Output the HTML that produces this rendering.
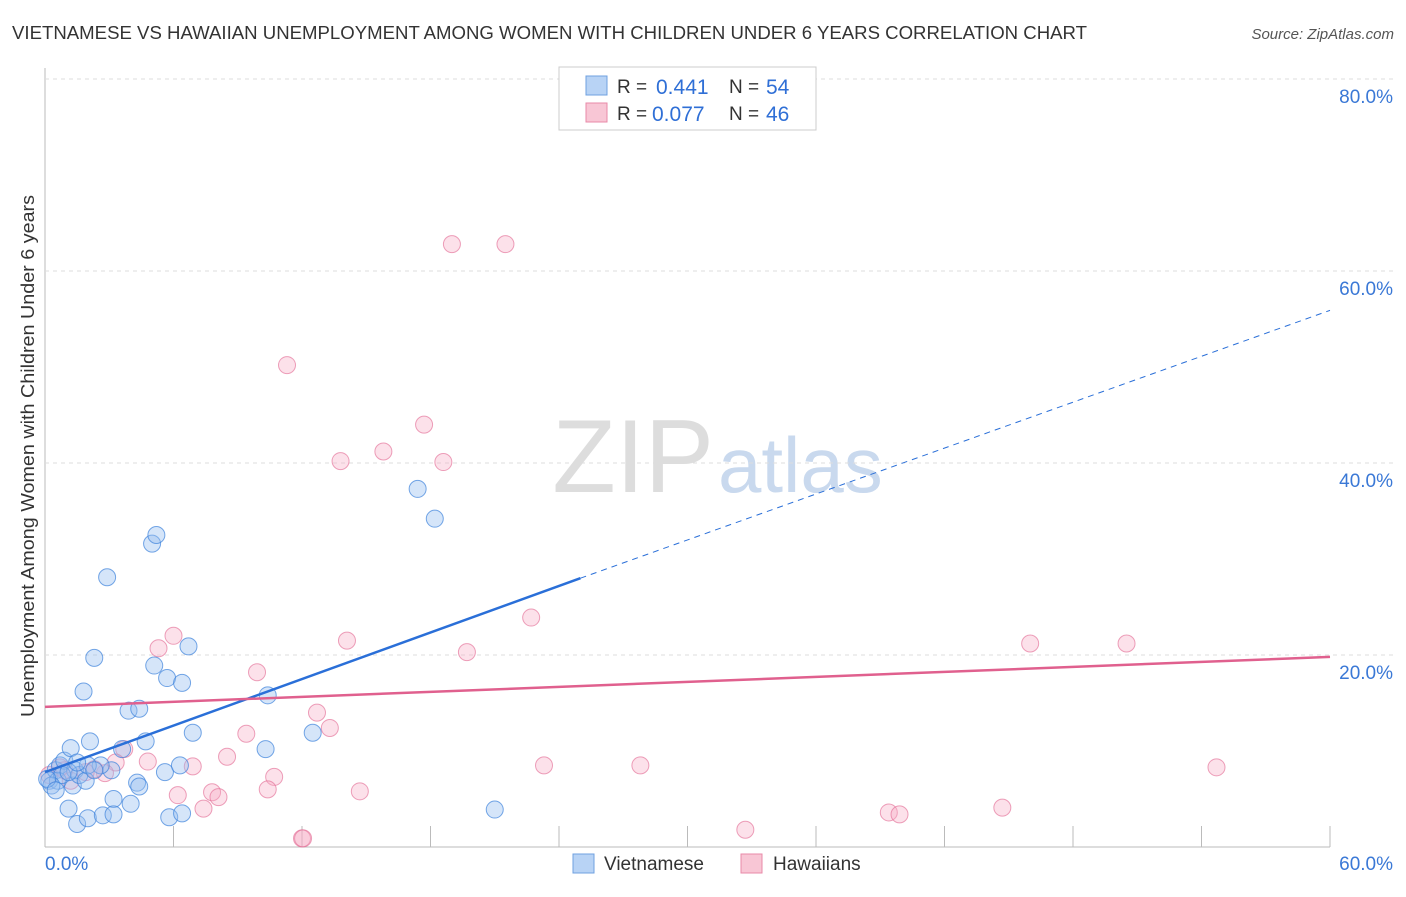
<!DOCTYPE html>
<html><head><meta charset="utf-8"><style>
body{margin:0;background:#fff;font-family:"Liberation Sans",sans-serif;}
svg text{font-family:"Liberation Sans",sans-serif;}
</style></head><body>
<svg id="c" width="1406" height="892">
<text x="12" y="39" font-size="18" fill="#333" textLength="1075" lengthAdjust="spacingAndGlyphs">VIETNAMESE VS HAWAIIAN UNEMPLOYMENT AMONG WOMEN WITH CHILDREN UNDER 6 YEARS CORRELATION CHART</text>
<text x="1394" y="39" font-size="15" fill="#555" font-style="italic" text-anchor="end">Source: ZipAtlas.com</text>
<text x="714" y="492" font-size="104" fill="#ddd" text-anchor="end" font-family="Liberation Serif">ZIP</text>
<text x="718" y="492" font-size="78" fill="#c9d9ee">atlas</text>
<text transform="translate(34,456) rotate(-90)" font-size="18" fill="#333" text-anchor="middle" textLength="522" lengthAdjust="spacingAndGlyphs">Unemployment Among Women with Children Under 6 years</text>
<g id="grid"></g><g id="marks"></g>
<g>
<rect x="559" y="67" width="257" height="63" fill="#fff" stroke="#ccc"/>
<rect x="586" y="76" width="21" height="19" fill="#b8d3f5" stroke="#6fa0e0"/>
<rect x="586" y="103" width="21" height="19" fill="#f8c6d5" stroke="#e88aa8"/>
<text x="617" y="93" font-size="19" fill="#333">R =</text>
<text x="656" y="94" font-size="21" fill="#2f6fd6">0.441</text>
<text x="729" y="93" font-size="19" fill="#333">N =</text>
<text x="766" y="94" font-size="21" fill="#2f6fd6">54</text>
<text x="617" y="120" font-size="19" fill="#333">R =</text>
<text x="652" y="121" font-size="21" fill="#2f6fd6">0.077</text>
<text x="729" y="120" font-size="19" fill="#333">N =</text>
<text x="766" y="121" font-size="21" fill="#2f6fd6">46</text>
</g>
<rect x="573" y="854" width="21" height="19" fill="#b8d3f5" stroke="#6fa0e0"/>
<text x="604" y="870" font-size="19" fill="#333">Vietnamese</text>
<rect x="741" y="854" width="21" height="19" fill="#f8c6d5" stroke="#e88aa8"/>
<text x="773" y="870" font-size="19" fill="#333">Hawaiians</text>
</svg>
<script>
const xTicks=[0,6,12,18,24,30,36,42,48,54,60];
const yTicks=[20,40,60,80];
const viet=[[2.9,28.1],[5,31.6],[5.2,32.5],[2.3,19.7],[6.7,20.9],[5.1,18.9],[5.7,17.6],[6.4,17.1],[1.8,16.2],[3.9,14.2],[4.4,14.4],[10.4,15.8],[2.1,11],[4.7,11],[6.9,11.9],[3.6,10.2],[12.5,11.9],[10.3,10.2],[17.4,37.3],[18.2,34.2],[5.6,7.8],[6.3,8.5],[4.3,6.7],[4.4,6.3],[3.1,8],[1.1,4],[3.2,5],[4,4.5],[1.5,2.4],[2,3],[2.7,3.3],[3.2,3.4],[5.8,3.1],[6.4,3.5],[21,3.9],[0.2,6.9],[0.5,8],[0.7,8.5],[0.9,9],[1.2,10.3],[1.3,6.4],[1.4,8],[1.6,7.5],[1.9,6.9],[0.6,6.9],[0.8,7.5],[0.3,6.4],[2.6,8.5],[1.1,7.8],[2,8.5],[2.3,8],[1.5,8.8],[0.1,7.1],[0.5,5.9]];
const haw=[[19,62.8],[21.5,62.8],[11.3,50.2],[17.7,44],[15.8,41.2],[13.8,40.2],[18.6,40.1],[22.7,23.9],[6,22],[5.3,20.7],[14.1,21.5],[19.7,20.3],[46,21.2],[50.5,21.2],[9.9,18.2],[12.7,14],[13.3,12.4],[9.4,11.8],[3.7,10.2],[8.5,9.4],[4.8,8.9],[3.3,8.8],[6.9,8.4],[23.3,8.5],[27.8,8.5],[54.7,8.3],[10.7,7.3],[2.8,7.7],[2.3,8.1],[10.4,6],[7.8,5.7],[8.1,5.2],[6.2,5.4],[7.4,4],[14.7,5.8],[39.4,3.6],[39.9,3.4],[44.7,4.1],[32.7,1.8],[12,0.9],[12.05,0.9],[1.9,7.8],[0.7,8.3],[0.2,7.5],[1.2,6.9],[0.9,8]];
const vietLine=[[0,7.8],[25,28],[60,55.9]];
const hawLine=[[0,14.6],[60,19.8]];
const X=v=>45+v*(1285/60), Y=v=>847-v*9.6;
const NS='http://www.w3.org/2000/svg';
function mk(t,a,p){const e=document.createElementNS(NS,t);for(const k in a)e.setAttribute(k,a[k]);p.appendChild(e);return e;}
const g=document.getElementById('grid'),m=document.getElementById('marks');
mk('line',{x1:45,y1:68,x2:45,y2:847,stroke:'#bbb'},g);
mk('line',{x1:45,y1:847,x2:1330,y2:847,stroke:'#bbb'},g);
yTicks.forEach(t=>{const l=mk('line',{x1:45,y1:Y(t),x2:1393,y2:Y(t),stroke:'#ddd','stroke-dasharray':'4,4'},g);


const tx=mk('text',{x:1393,y:Y(t)+24,'font-size':19,fill:'#3a78d6','text-anchor':'end'},g);tx.textContent=t.toFixed(1)+'%';

});
xTicks.forEach(t=>{const l=mk('line',{x1:X(t),y1:847,x2:X(t),y2:826,stroke:'#bbb'},g);

});
[[0,'start',45],[60,'end',1393]].forEach(([t,a,x])=>{const tx=mk('text',{x:x,y:870,'font-size':19,fill:'#3a78d6','text-anchor':a},g);tx.textContent=t.toFixed(1)+'%';

});
haw.forEach(p=>{const c=mk('circle',{cx:X(p[0]),cy:Y(p[1]),r:8.5,fill:'rgba(246,170,195,0.35)',stroke:'rgba(228,110,150,0.65)','stroke-width':1},m);

});
viet.forEach(p=>{const c=mk('circle',{cx:X(p[0]),cy:Y(p[1]),r:8.5,fill:'rgba(150,190,240,0.4)',stroke:'rgba(60,130,220,0.7)','stroke-width':1},m);

});
let l=mk('line',{x1:X(vietLine[0][0]),y1:Y(vietLine[0][1]),x2:X(vietLine[1][0]),y2:Y(vietLine[1][1]),stroke:'#2a6fd8','stroke-width':2.5},m);


l=mk('line',{x1:X(vietLine[1][0]),y1:Y(vietLine[1][1]),x2:X(vietLine[2][0]),y2:Y(vietLine[2][1]),stroke:'#2a6fd8','stroke-width':1,'stroke-dasharray':'6,5'},m);


l=mk('line',{x1:X(hawLine[0][0]),y1:Y(hawLine[0][1]),x2:X(hawLine[1][0]),y2:Y(hawLine[1][1]),stroke:'#e0608e','stroke-width':2.5},m);


</script>
</body></html>
